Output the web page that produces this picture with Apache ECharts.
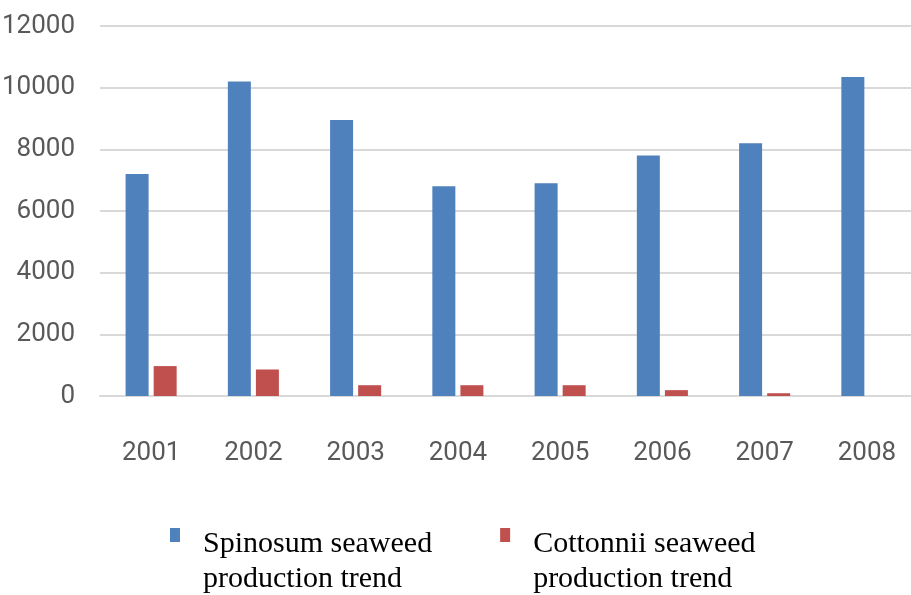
<!DOCTYPE html>
<html>
<head>
<meta charset="utf-8">
<script src="https://cdn.jsdelivr.net/npm/echarts@6/dist/echarts.min.js"></script>
<style>
  html, body { margin: 0; padding: 0; background: #fff; }
  #chart { width: 911px; height: 595px; }
</style>
</head>
<body>
<div id="chart"></div>
<script>
// data
var years = ['2001', '2002', '2003', '2004', '2005', '2006', '2007', '2008'];
var spinosum = [7200, 10200, 8950, 6800, 6900, 7800, 8200, 10350];
var cottonii = [970, 860, 350, 350, 350, 190, 90, 0];
var seriesNames = ['Spinosum seaweed\nproduction trend', 'Cottonnii seaweed\nproduction trend'];
var yTicks = { min: 0, max: 12000, step: 2000 };

var axisFont = "'Liberation Sans Narrow', Roboto, sans-serif";
var serifFont = "'Liberation Serif', 'Times New Roman', serif";

var myChart = echarts.init(document.getElementById('chart'));
myChart.setOption({
  animation: false,
  color: ['#4F81BD', '#C0504D'],
  grid: {
    left: 100,
    top: 26,
    width: 818,
    height: 370,
    outerBoundsMode: 'none'
  },
  legend: {
    left: 170,
    top: 485,
    padding: 0,
    itemGap: 68,
    icon: 'rect',
    itemWidth: 10,
    itemHeight: 14,
    // empty first line pushes the text down so the icon sits by the first line
    formatter: function(name) {
      return '{s| }\n{t|' + name.split('\n').join('}\n{t|') + '}';
    },
    textStyle: {
      padding: [0, 0, 0, 18],
      rich: {
        s: { fontSize: 30, lineHeight: 53, fontFamily: serifFont },
        t: { fontSize: 30, lineHeight: 35, fontFamily: serifFont, color: '#000' }
      }
    },
    data: seriesNames
  },
  xAxis: {
    type: 'category',
    data: years,
    axisLine: { show: true, lineStyle: { color: '#d9d9d9', width: 2 } },
    axisTick: { show: false },
    axisLabel: {
      margin: 44,
      color: '#595959',
      fontSize: 26,
      fontFamily: axisFont
    }
  },
  yAxis: {
    type: 'value',
    min: yTicks.min,
    max: yTicks.max,
    interval: yTicks.step,
    axisLine: { show: false },
    axisTick: { show: false },
    splitLine: { lineStyle: { color: '#d9d9d9', width: 2 } },
    axisLabel: {
      margin: 25,
      color: '#595959',
      fontSize: 26,
      fontFamily: axisFont,
      formatter: function(v) { return String(v); }
    }
  },
  series: [
    {
      name: seriesNames[0],
      type: 'bar',
      barWidth: 23,
      barGap: '22%',
      data: spinosum
    },
    {
      name: seriesNames[1],
      type: 'bar',
      barWidth: 23,
      data: cottonii
    }
  ]
});
</script>
</body>
</html>
